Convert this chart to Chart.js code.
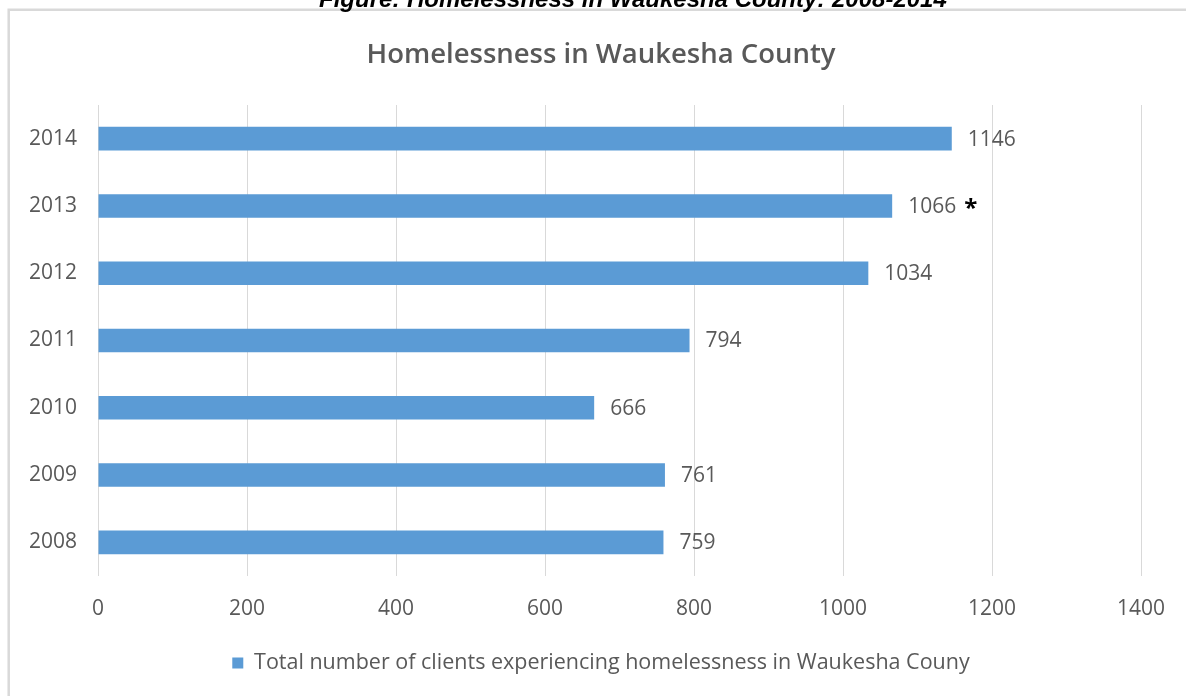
<!DOCTYPE html>
<html>
<head>
<meta charset="utf-8">
<script src="https://cdn.jsdelivr.net/npm/chart.js@4"></script>
<style>
  html, body { margin: 0; padding: 0; background: #ffffff; }
  #wrap { width: 1186px; height: 696px; position: relative; }
</style>
</head>
<body>
<div id="wrap"><canvas id="c"></canvas></div>
<script>
// ---- data ----
const years = ['2008', '2009', '2010', '2011', '2012', '2013', '2014'];
const clients = [759, 761, 666, 794, 1034, 1066, 1146];
const notes = ['', '', '', '', '', '*', ''];
const xTicks = [0, 200, 400, 600, 800, 1000, 1200, 1400];
const seriesName = 'Total number of clients experiencing homelessness in Waukesha Couny';
const chartTitle = 'Homelessness in Waukesha County';
const figureCaption = 'Figure: Homelessness in Waukesha County: 2008-2014';

const FONT = "'Open Sans', sans-serif";
const TEXT = '#595959';
const BAR = '#5B9BD5';
const GRID = '#d9d9d9';

Chart.defaults.font.family = FONT;
Chart.defaults.color = TEXT;

const framePlugin = {
  id: 'frame',
  beforeDraw(chart) {
    const ctx = chart.ctx;
    ctx.save();
    ctx.fillStyle = '#ffffff';
    ctx.fillRect(0, 0, chart.width, chart.height);
    ctx.strokeStyle = GRID;
    ctx.lineWidth = 2.5;
    ctx.beginPath();
    ctx.moveTo(8.7, chart.height + 5);
    ctx.lineTo(8.7, 9.7);
    ctx.lineTo(chart.width + 5, 9.7);
    ctx.stroke();
    ctx.restore();
  },
  afterDraw(chart) {
    const ctx = chart.ctx;
    ctx.save();
    ctx.fillStyle = '#000000';
    ctx.font = "bold italic 24px 'Liberation Sans', Arial, sans-serif";
    ctx.textAlign = 'left';
    ctx.textBaseline = 'alphabetic';
    ctx.fillText(figureCaption, 319, 7);
    ctx.restore();
  }
};

const valueLabels = {
  id: 'valueLabels',
  afterDatasetsDraw(chart) {
    const ctx = chart.ctx;
    const meta = chart.getDatasetMeta(0);
    ctx.save();
    meta.data.forEach((bar, i) => {
      const txt = String(clients[i]);
      ctx.font = "21px " + FONT;
      ctx.fillStyle = TEXT;
      ctx.textAlign = 'left';
      ctx.textBaseline = 'middle';
      const x = bar.x + 16;
      ctx.fillText(txt, x, bar.y + 1);
      if (notes[i]) {
        const w = ctx.measureText(txt).width;
        ctx.font = "bold 24px " + FONT;
        ctx.fillStyle = '#000000';
        ctx.fillText(notes[i], x + w + 8, bar.y + 3);
      }
    });
    ctx.restore();
  }
};

new Chart(document.getElementById('c'), {
  type: 'bar',
  data: {
    labels: years,
    datasets: [{
      label: seriesName,
      data: clients,
      backgroundColor: BAR,
      borderWidth: 0,
      categoryPercentage: 1.0,
      barPercentage: 0.35
    }]
  },
  options: {
    indexAxis: 'y',
    responsive: true,
    maintainAspectRatio: false,
    animation: false,
    layout: { padding: { left: 16, right: 0, top: 0, bottom: 12.25 } },
    scales: {
      x: {
        min: 0,
        max: 1400,
        afterBuildTicks(scale) { scale.ticks = xTicks.map(v => ({ value: v })); },
        afterFit(scale) {
          scale.height = 66.25;
          scale.paddingRight = 45;
          scale.paddingLeft = 0;
        },
        grid: { color: GRID, lineWidth: 1, drawTicks: false },
        border: { display: false },
        ticks: {
          padding: 20, color: TEXT, font: { size: 21 },
          callback: (v) => String(v)
        }
      },
      y: {
        reverse: true,
        afterFit(scale) { scale.width = 82; },
        grid: { display: false, drawTicks: false },
        border: { display: false },
        ticks: { padding: 21, color: TEXT, font: { size: 21 } }
      }
    },
    plugins: {
      title: {
        display: true,
        text: chartTitle,
        color: TEXT,
        font: { size: 27.5, weight: '600', lineHeight: 1.2 },
        padding: { top: 38.5, bottom: 33.5 }
      },
      legend: {
        display: true,
        position: 'bottom',
        labels: {
          color: TEXT,
          font: { size: 21.5 },
          boxWidth: 11,
          boxHeight: 11,
          padding: 10
        }
      },
      tooltip: { enabled: false }
    }
  },
  plugins: [framePlugin, valueLabels]
});
</script>
</body>
</html>
